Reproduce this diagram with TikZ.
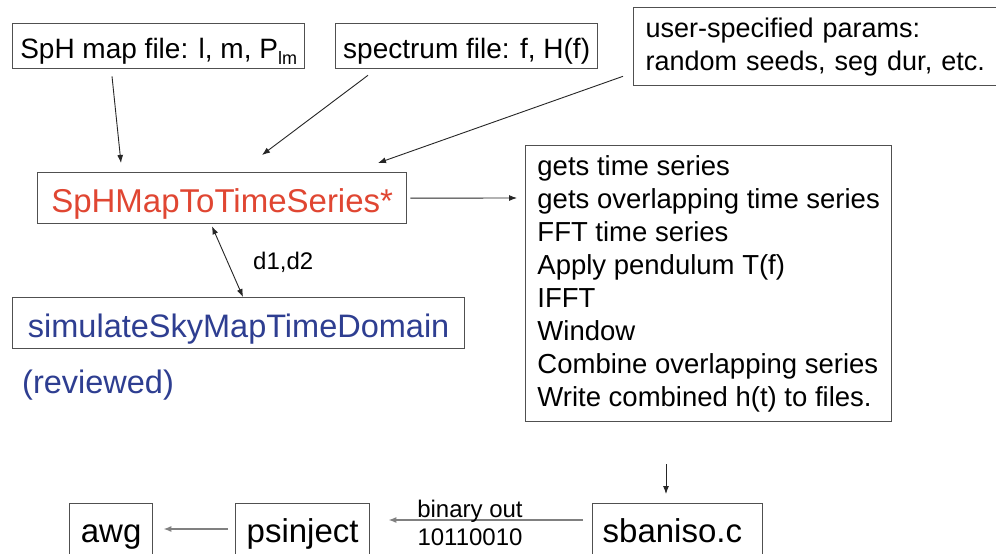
\documentclass[tikz,border=0pt]{standalone}
\usepackage{fontspec}
\setmainfont{Liberation Sans}
\usetikzlibrary{arrows.meta,calc}
\definecolor{fnred}{RGB}{224,70,50}
\definecolor{fnblue}{RGB}{46,62,145}
\definecolor{frame}{RGB}{80,80,80}
\newcommand{\fs}[2]{\fontsize{#1}{#2}\selectfont}
\begin{document}
\begin{tikzpicture}[x=1pt,y=-1pt,
  box/.style={draw=frame,line width=1.3pt,inner sep=0pt,anchor=north west},
  listbox/.style={box,inner xsep=10pt,align=left},
  arr/.style={draw=black!85,line width=0.9pt,-{Latex[length=8pt,width=6pt]}},
  dblarr/.style={draw=black!85,line width=0.9pt,{Latex[length=8pt,width=6pt]}-{Latex[length=8pt,width=6pt]}},
  garr/.style={draw=black!50,line width=1.6pt,-{Latex[length=8pt,width=6pt]}},
  lbl/.style={inner sep=0pt,anchor=base,font=\fs{24}{28}}]
\clip (0,0) rectangle (996,554);
\fill[white] (0,0) rectangle (996,554);

% inputs
\node[box,minimum width=292pt,text height=35pt,text depth=10pt,font=\fs{28}{33}] (mapfile) at (12,23)
  {SpH map file: l, m, P\raisebox{-0.22em}{\fs{18}{18}lm}};
\node[box,minimum width=262pt,text height=35pt,text depth=10pt,font=\fs{28}{33}] (spectrum) at (335,23)
  {spectrum file: f, H(f)};
\node[listbox,inner xsep=12pt,text width=376pt,minimum height=78pt,font=\fs{27}{33}] (params) at (633,7)
  {user-specified params:\\random seeds, seg dur, etc.};

% main routines
\node[box,minimum width=369pt,text height=40pt,text depth=11pt,text=fnred,font=\fs{33}{38}] (sph) at (37,172)
  {SpHMapToTimeSeries*};
\node[box,minimum width=452pt,text height=40pt,text depth=11pt,text=fnblue,font=\fs{32.5}{38}] (sim) at (12,297)
  {simulateSkyMapTimeDomain};
\node[inner sep=0pt,anchor=base west,text=fnblue,font=\fs{32.5}{38}] (reviewed) at (22,393)
  {(reviewed)};

% processing steps: lines left-aligned, block centred in the frame
\node[box,align=left,minimum width=366pt,minimum height=276pt,font=\fs{27.5}{33}] (steps) at (525,145)
  {gets time series\\gets overlapping time series\\FFT time series\\
   Apply pendulum T(f)\\IFFT\\Window\\Combine overlapping series\\
   Write combined h(t) to files.};

% output chain
\node[box,minimum width=83pt,text height=39pt,text depth=40pt,font=\fs{33}{38}] (awg) at (69,503)
  {awg};
\node[box,minimum width=134pt,text height=39pt,text depth=40pt,font=\fs{33}{38}] (psinject) at (235,503)
  {psinject};
\node[box,text height=39pt,text depth=40pt,text width=150pt,align=left,inner xsep=10pt,font=\fs{33}{38}] (sbaniso) at (592,503)
  {sbaniso.c};

% connectors
\draw[arr] ($(mapfile.south west)+(100,7)$) -- ($(sph.north west)+(84,-9)$);
\draw[arr] ($(spectrum.south west)+(33,6)$) -- ($(sph.north west)+(225,-17)$);
\draw[arr] ($(params.south west)+(-10,-10)$) -- ($(sph.north west)+(341,-9)$);
\draw[arr] ($(sph.east)+(3,0)$) -- ($(steps.north west)+(-8,53)$);
\draw[dblarr] ($(sph.south west)+(175,2)$) -- ($(sim.north west)+(231,0)$);
\node[lbl,anchor=base west] (dlabel) at (253,269) {d1,d2};
\draw[arr] ($(steps.south west)+(141,42)$) -- ($(sbaniso.north west)+(74,-9)$);
\draw[garr] ($(sbaniso.north west)+(-9,17)$) -- ($(psinject.north east)+(18,17)$);
\node[lbl] (binout) at (470,517) {binary out};
\node[lbl] (bits) at (470,545) {10110010};
\draw[garr] ($(psinject.north west)+(-7,26)$) -- ($(awg.north east)+(10,26)$);
\end{tikzpicture}
\end{document}
